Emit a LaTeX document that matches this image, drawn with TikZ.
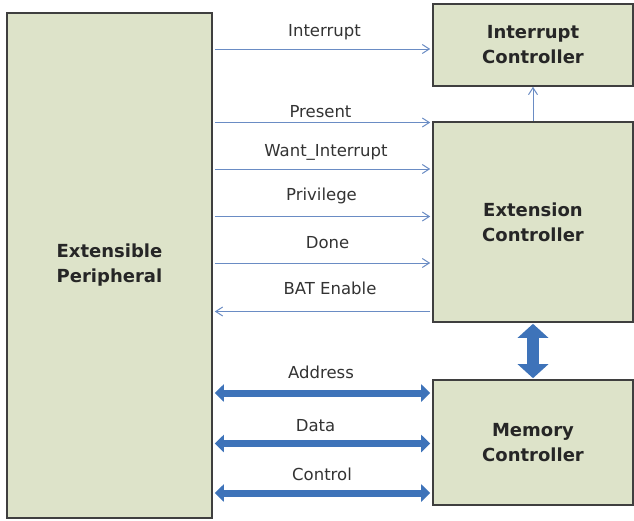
\documentclass[tikz,border=0pt]{standalone}
\usepackage{fontspec}
\setmainfont{DejaVu Sans}
\usetikzlibrary{arrows.meta}
\definecolor{boxfill}{HTML}{DDE3C9}
\definecolor{boxline}{HTML}{3F3F3F}
\definecolor{sigblue}{HTML}{6A8CC4}
\definecolor{busblue}{HTML}{3E73B9}
\begin{document}
\begin{tikzpicture}[x=1pt,y=-1pt,
  block/.style={draw=boxline,line width=1.6pt,fill=boxfill,inner sep=0pt,
    font=\bfseries\fontsize{18}{25}\selectfont,align=center,text=black!85},
  sig/.style={draw=sigblue,line width=1pt,-{Straight Barb[length=7pt,width=9pt]}},
  bus/.style={draw=busblue,line width=7pt,{Triangle[length=9pt,width=17pt]}-{Triangle[length=9pt,width=17pt]},shorten <=-1pt,shorten >=-1pt},
  lbl/.style={font=\fontsize{16.5}{18}\selectfont,text=black!80,inner sep=0pt,anchor=base}]
\useasboundingbox (0,0) rectangle (634,520);
\fill[white] (0,0) rectangle (634,520);
% blocks
\node[block,minimum width=205pt,minimum height=505pt] (ep) at (109.5,265.5) {Extensible\\Peripheral};
\node[block,minimum width=200pt,minimum height=82pt] (ic) at (533,45) {Interrupt\\Controller};
\node[block,minimum width=200pt,minimum height=200pt] (ec) at (533,222) {Extension\\Controller};
\node[block,minimum width=200pt,minimum height=125pt] (mc) at (533,442.5) {Memory\\Controller};
% control signals: line y / label x / label baseline / text / id
\foreach \y/\lx/\ly/\t/\n in {49/324.5/36/Interrupt/a,122.5/320.5/117/Present/b,169/326/156/Want\_Interrupt/c,216.5/321.5/200/Privilege/d,263/327.5/248/Done/e}{
  \coordinate (s\n) at (ep.east |- 0,\y);
  \coordinate (d\n) at (ic.west |- 0,\y);
  \draw[sig] ([xshift=2pt]s\n) -- ([xshift=-2pt]d\n);
  \node[lbl] (l\n) at (\lx,\ly) {\t};
}
\coordinate (sf) at (ep.east |- 0,311.5);
\coordinate (df) at (ec.west |- 0,311.5);
\draw[sig] ([xshift=-2pt]df) -- ([xshift=2pt]sf);
\node[lbl] (lf) at (330,294) {BAT Enable};
\draw[sig] (ec.north) -- (ic.south);
% buses
\foreach \y/\lx/\ly/\t/\n in {393/321/378/Address/g,443.5/315.5/431/Data/h,493/322/480/Control/i}{
  \coordinate (s\n) at (ep.east |- 0,\y);
  \coordinate (d\n) at (mc.west |- 0,\y);
  \draw[bus] ([xshift=3pt]s\n) -- ([xshift=-3pt]d\n);
  \node[lbl] (l\n) at (\lx,\ly) {\t};
}
\draw[busblue,line width=12pt,{Triangle[length=14pt,width=30pt]}-{Triangle[length=14pt,width=30pt]},shorten <=-1pt,shorten >=-1pt]
  ([yshift=-2pt]ec.south) -- ([yshift=2pt]mc.north);
\end{tikzpicture}
\end{document}
